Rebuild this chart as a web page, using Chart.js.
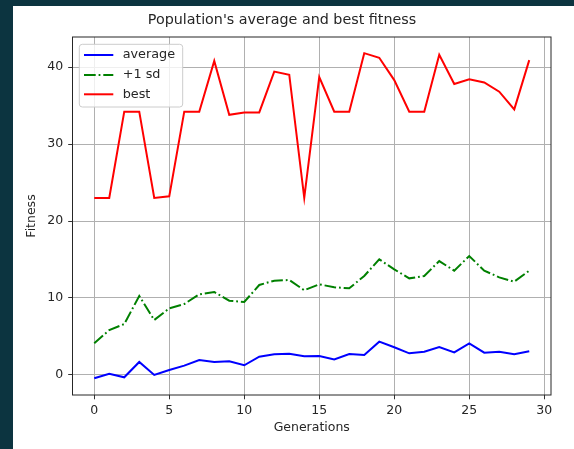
<!DOCTYPE html>
<html><head><meta charset="utf-8">
<script src="https://cdn.jsdelivr.net/npm/chart.js@4/dist/chart.umd.min.js"></script>
<style>
html,body{margin:0;padding:0;background:#0c3440;width:574px;height:449px;overflow:hidden}
#wrap{position:absolute;left:13px;top:6px;width:561px;height:443px;background:#fff}
canvas{display:block}
</style></head><body>
<div id="wrap"><canvas id="c" width="561" height="443"></canvas></div>
<script>
const chartTitle = "Population's average and best fitness";
const xTitle = "Generations";
const yTitle = "Fitness";
const seriesLabels = ["average", "+1 sd", "best"];
const generations = [0,1,2,3,4,5,6,7,8,9,10,11,12,13,14,15,16,17,18,19,20,21,22,23,24,25,26,27,28,29];
const average = [-0.43,0.17,-0.3,1.69,0.0,0.65,1.21,1.95,1.69,1.77,1.26,2.38,2.68,2.77,2.42,2.45,2.03,2.73,2.6,4.33,3.6,2.81,3.03,3.64,2.94,4.11,2.9,3.03,2.68,3.07];
const plusOneSd = [4.11,5.84,6.62,10.26,7.14,8.66,9.22,10.48,10.78,9.65,9.48,11.69,12.25,12.34,11.0,11.78,11.39,11.26,12.86,15.02,13.72,12.55,12.86,14.8,13.55,15.45,13.55,12.68,12.12,13.55];
const best = [23.0,23.0,34.2,34.2,23.0,23.2,34.2,34.2,40.8,33.8,34.1,34.1,39.4,39.0,23.0,38.7,34.2,34.2,41.8,41.2,38.3,34.2,34.2,41.6,37.8,38.4,38.0,36.8,34.5,40.9];

const FONT = "'DejaVu Sans', sans-serif";
const TXT = '#262626';
const toXY = vals => vals.map((v, i) => ({x: generations[i], y: v}));

const framePlugin = {
  id: 'frame',
  afterDatasetsDraw(chart) {
    const {ctx, chartArea: ca} = chart;
    ctx.save();
    ctx.strokeStyle = '#262626';
    ctx.lineWidth = 1;
    ctx.strokeRect(ca.left, ca.top, ca.right - ca.left, ca.bottom - ca.top);
    ctx.restore();
  }
};

const legendPlugin = {
  id: 'mplLegend',
  afterDatasetsDraw(chart) {
    const {ctx, chartArea: ca} = chart;
    const x0 = ca.left + 6.8, y0 = ca.top + 7.3, w = 103.4, h = 62.7, r = 3;
    ctx.save();
    ctx.beginPath();
    ctx.moveTo(x0 + r, y0);
    ctx.lineTo(x0 + w - r, y0);
    ctx.arcTo(x0 + w, y0, x0 + w, y0 + r, r);
    ctx.lineTo(x0 + w, y0 + h - r);
    ctx.arcTo(x0 + w, y0 + h, x0 + w - r, y0 + h, r);
    ctx.lineTo(x0 + r, y0 + h);
    ctx.arcTo(x0, y0 + h, x0, y0 + h - r, r);
    ctx.lineTo(x0, y0 + r);
    ctx.arcTo(x0, y0, x0 + r, y0, r);
    ctx.closePath();
    ctx.fillStyle = 'rgba(255,255,255,0.8)';
    ctx.fill();
    ctx.strokeStyle = '#cccccc';
    ctx.lineWidth = 1;
    ctx.stroke();
    const rows = [18, 38, 57.3];
    chart.data.datasets.forEach((ds, i) => {
      const yy = ca.top + rows[i];
      ctx.beginPath();
      ctx.setLineDash(ds.borderDash || []);
      ctx.strokeStyle = ds.borderColor;
      ctx.lineWidth = ds.borderWidth;
      ctx.moveTo(ca.left + 11.5, yy);
      ctx.lineTo(ca.left + 40.8, yy);
      ctx.stroke();
      ctx.setLineDash([]);
      ctx.fillStyle = TXT;
      ctx.font = "12.8px " + FONT;
      ctx.textBaseline = 'middle';
      ctx.textAlign = 'left';
      ctx.fillText(ds.label, ca.left + 50.2, yy);
    });
    ctx.restore();
  }
};

new Chart(document.getElementById('c'), {
  type: 'line',
  data: {
    datasets: [
      {label: seriesLabels[0], data: toXY(average), borderColor: '#0000ff', borderWidth: 2, pointRadius: 0, tension: 0, fill: false},
      {label: seriesLabels[1], data: toXY(plusOneSd), borderColor: '#008000', borderWidth: 2, borderDash: [11.7, 2.9, 1.8, 2.9], pointRadius: 0, tension: 0, fill: false},
      {label: seriesLabels[2], data: toXY(best), borderColor: '#ff0000', borderWidth: 2, pointRadius: 0, tension: 0, fill: false}
    ]
  },
  options: {
    responsive: false,
    animation: false,
    devicePixelRatio: 1,
    layout: {padding: {left: 0, right: 23, top: 0, bottom: 0}},
    plugins: {
      legend: {display: false},
      tooltip: {enabled: false},
      title: {display: true, text: chartTitle, color: TXT,
        font: {family: FONT, size: 14.3, weight: 'normal', lineHeight: 1.2},
        padding: {top: 5.3, bottom: 8.54}}
    },
    scales: {
      x: {
        type: 'linear', min: -1.45, max: 30.45,
        afterFit: s => { s.height = 54; },
        ticks: {stepSize: 5, includeBounds: false, color: TXT, font: {family: FONT, size: 12.5}, padding: 4, maxRotation: 0, autoSkip: false},
        grid: {color: '#b0b0b0', lineWidth: 1, tickColor: '#333', tickLength: 4.3, tickWidth: 1},
        border: {display: false},
        title: {display: true, text: xTitle, color: TXT, font: {family: FONT, size: 12.5, lineHeight: 1.2}, padding: {top: 0, bottom: 13.5}}
      },
      y: {
        type: 'linear', min: -2.6, max: 43.9,
        afterFit: s => { s.width = 59.5; },
        ticks: {stepSize: 10, includeBounds: false, color: TXT, font: {family: FONT, size: 12.5}, padding: 5},
        grid: {color: '#b0b0b0', lineWidth: 1, tickColor: '#333', tickLength: 4.3, tickWidth: 1},
        border: {display: false},
        title: {display: true, text: yTitle, color: TXT, font: {family: FONT, size: 12.5, lineHeight: 1.2}, padding: {top: 11.5, bottom: 0}}
      }
    }
  },
  plugins: [framePlugin, legendPlugin]
});
</script>
</body></html>
